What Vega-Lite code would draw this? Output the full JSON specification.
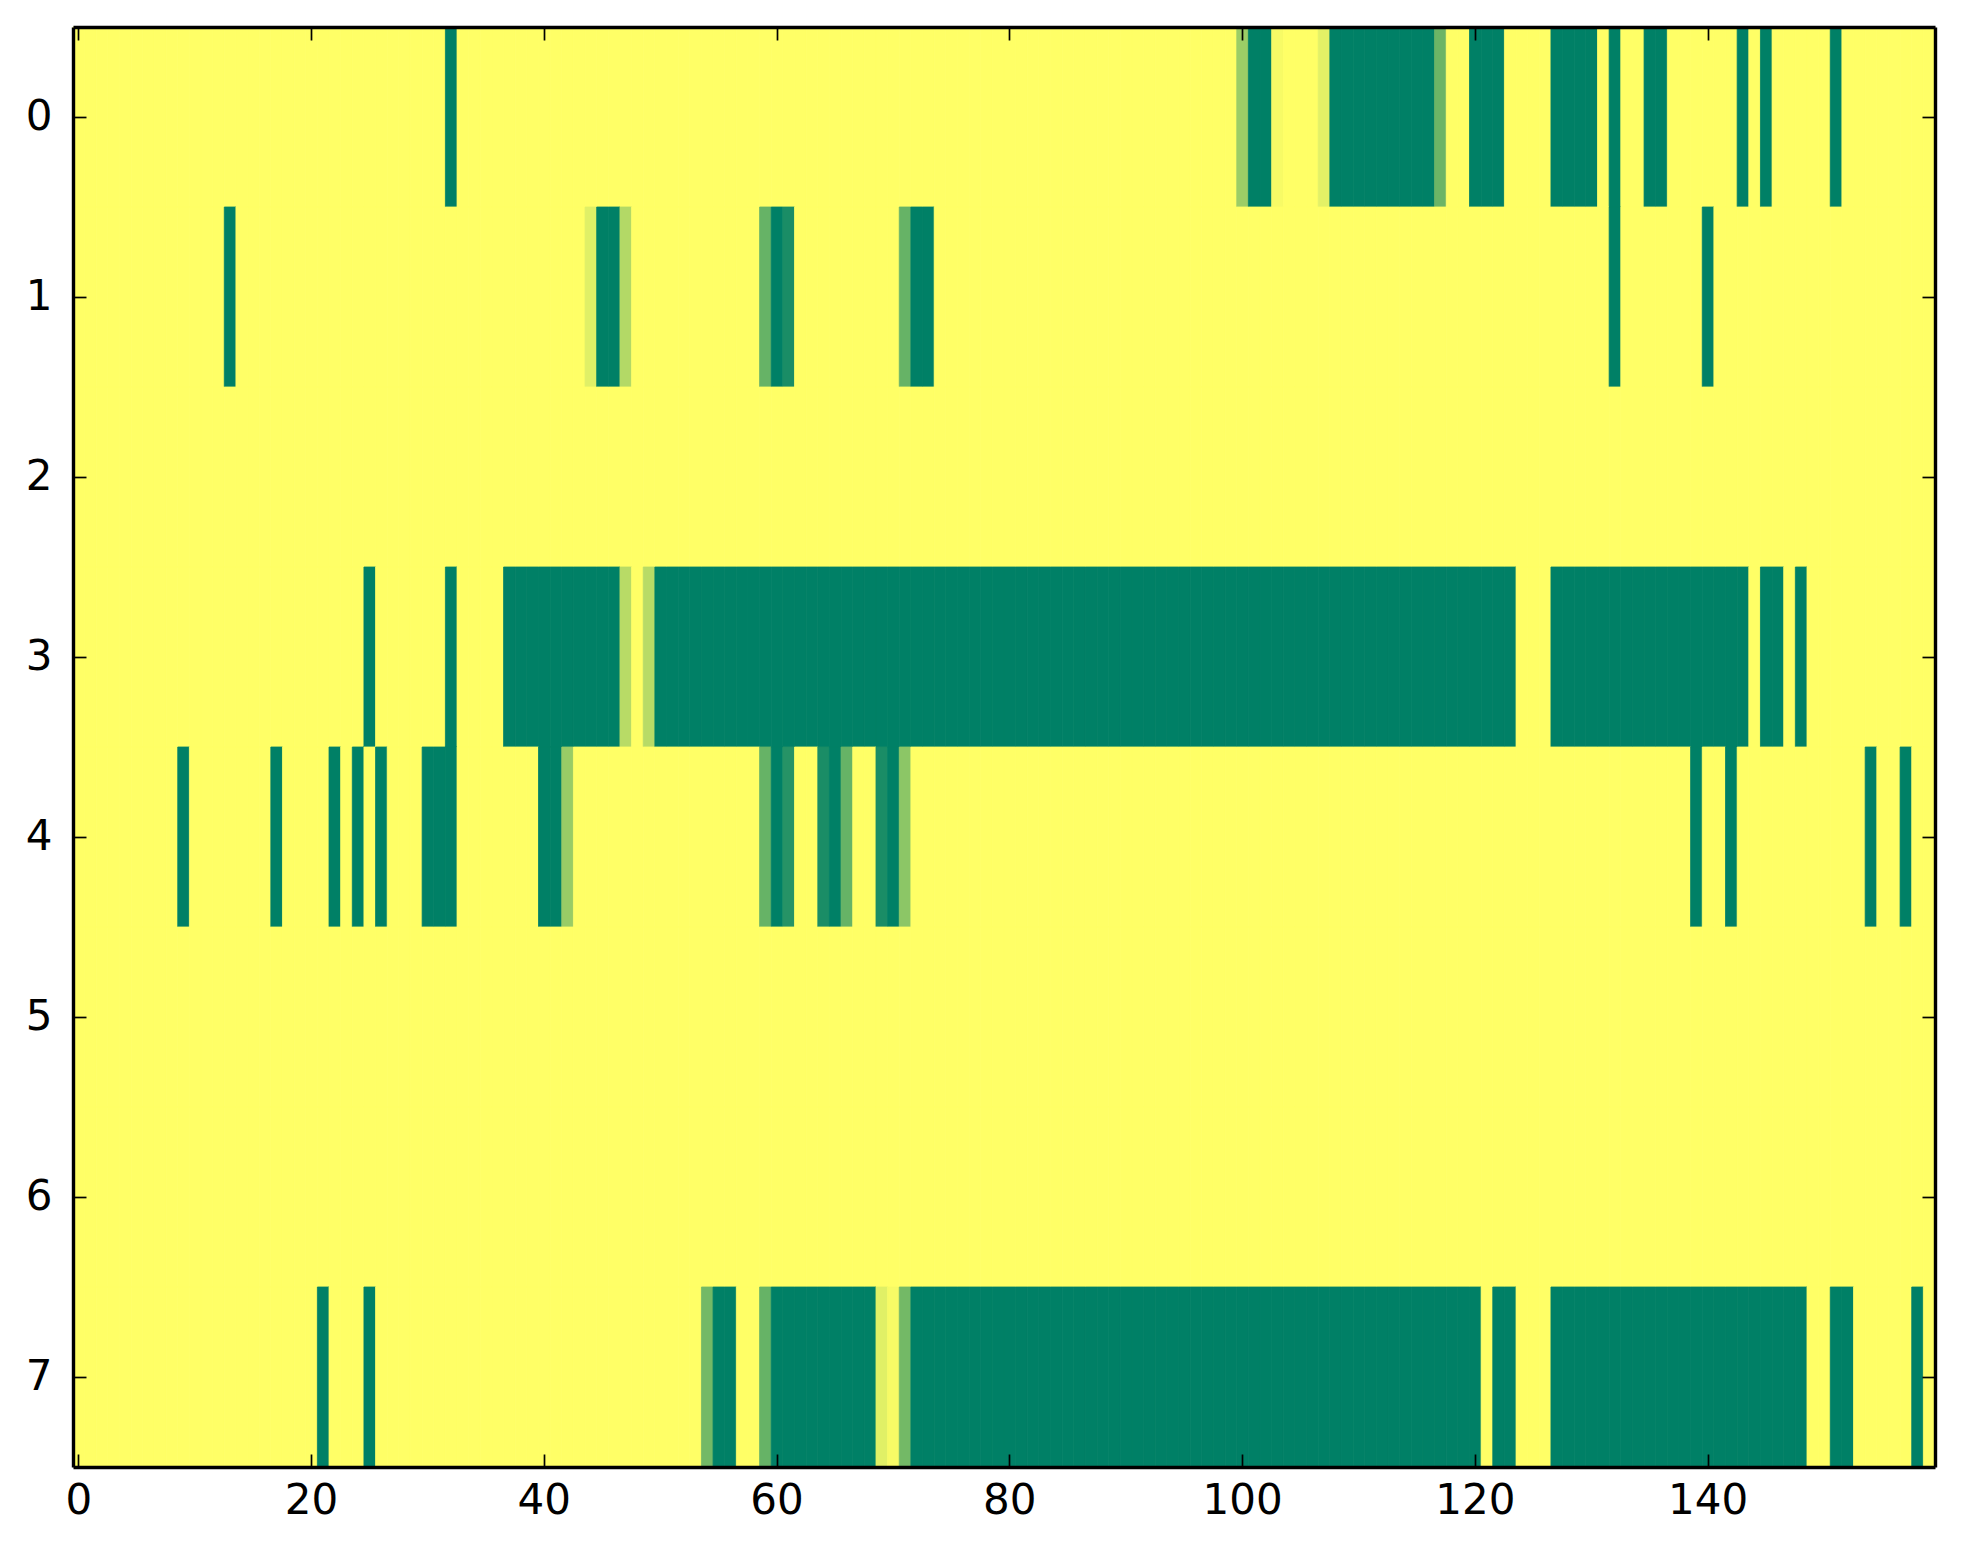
{
  "$schema": "https://vega.github.io/schema/vega-lite/v6.json",
  "width": 1862,
  "height": 1440,
  "autosize": "none",
  "padding": {"left": 73, "top": 27, "right": 28, "bottom": 97},
  "background": "white",
  "config": {"view": {"stroke": null}, "font": "DejaVu Sans"},
  "data": {"values": [
{"r":0,"c":0,"v":0},{"r":0,"c":1,"v":0},{"r":0,"c":2,"v":0},{"r":0,"c":3,"v":0},{"r":0,"c":4,"v":0},{"r":0,"c":5,"v":0},{"r":0,"c":6,"v":0},{"r":0,"c":7,"v":0},{"r":0,"c":8,"v":0},{"r":0,"c":9,"v":0},
{"r":0,"c":10,"v":0},{"r":0,"c":11,"v":0},{"r":0,"c":12,"v":0},{"r":0,"c":13,"v":0},{"r":0,"c":14,"v":0},{"r":0,"c":15,"v":0},{"r":0,"c":16,"v":0},{"r":0,"c":17,"v":0},{"r":0,"c":18,"v":0},{"r":0,"c":19,"v":0},
{"r":0,"c":20,"v":0},{"r":0,"c":21,"v":0},{"r":0,"c":22,"v":0},{"r":0,"c":23,"v":0},{"r":0,"c":24,"v":0},{"r":0,"c":25,"v":0},{"r":0,"c":26,"v":0},{"r":0,"c":27,"v":0},{"r":0,"c":28,"v":0},{"r":0,"c":29,"v":0},
{"r":0,"c":30,"v":0},{"r":0,"c":31,"v":0},{"r":0,"c":32,"v":1},{"r":0,"c":33,"v":0},{"r":0,"c":34,"v":0},{"r":0,"c":35,"v":0},{"r":0,"c":36,"v":0},{"r":0,"c":37,"v":0},{"r":0,"c":38,"v":0},{"r":0,"c":39,"v":0},
{"r":0,"c":40,"v":0},{"r":0,"c":41,"v":0},{"r":0,"c":42,"v":0},{"r":0,"c":43,"v":0},{"r":0,"c":44,"v":0},{"r":0,"c":45,"v":0},{"r":0,"c":46,"v":0},{"r":0,"c":47,"v":0},{"r":0,"c":48,"v":0},{"r":0,"c":49,"v":0},
{"r":0,"c":50,"v":0},{"r":0,"c":51,"v":0},{"r":0,"c":52,"v":0},{"r":0,"c":53,"v":0},{"r":0,"c":54,"v":0},{"r":0,"c":55,"v":0},{"r":0,"c":56,"v":0},{"r":0,"c":57,"v":0},{"r":0,"c":58,"v":0},{"r":0,"c":59,"v":0},
{"r":0,"c":60,"v":0},{"r":0,"c":61,"v":0},{"r":0,"c":62,"v":0},{"r":0,"c":63,"v":0},{"r":0,"c":64,"v":0},{"r":0,"c":65,"v":0},{"r":0,"c":66,"v":0},{"r":0,"c":67,"v":0},{"r":0,"c":68,"v":0},{"r":0,"c":69,"v":0},
{"r":0,"c":70,"v":0},{"r":0,"c":71,"v":0},{"r":0,"c":72,"v":0},{"r":0,"c":73,"v":0},{"r":0,"c":74,"v":0},{"r":0,"c":75,"v":0},{"r":0,"c":76,"v":0},{"r":0,"c":77,"v":0},{"r":0,"c":78,"v":0},{"r":0,"c":79,"v":0},
{"r":0,"c":80,"v":0},{"r":0,"c":81,"v":0},{"r":0,"c":82,"v":0},{"r":0,"c":83,"v":0},{"r":0,"c":84,"v":0},{"r":0,"c":85,"v":0},{"r":0,"c":86,"v":0},{"r":0,"c":87,"v":0},{"r":0,"c":88,"v":0},{"r":0,"c":89,"v":0},
{"r":0,"c":90,"v":0},{"r":0,"c":91,"v":0},{"r":0,"c":92,"v":0},{"r":0,"c":93,"v":0},{"r":0,"c":94,"v":0},{"r":0,"c":95,"v":0},{"r":0,"c":96,"v":0},{"r":0,"c":97,"v":0},{"r":0,"c":98,"v":0},{"r":0,"c":99,"v":0},
{"r":0,"c":100,"v":0.39},{"r":0,"c":101,"v":1},{"r":0,"c":102,"v":1},{"r":0,"c":103,"v":0.03},{"r":0,"c":104,"v":0},{"r":0,"c":105,"v":0},{"r":0,"c":106,"v":0},{"r":0,"c":107,"v":0.11},{"r":0,"c":108,"v":1},{"r":0,"c":109,"v":1},
{"r":0,"c":110,"v":1},{"r":0,"c":111,"v":1},{"r":0,"c":112,"v":1},{"r":0,"c":113,"v":1},{"r":0,"c":114,"v":1},{"r":0,"c":115,"v":1},{"r":0,"c":116,"v":1},{"r":0,"c":117,"v":0.58},{"r":0,"c":118,"v":0},{"r":0,"c":119,"v":0},
{"r":0,"c":120,"v":1},{"r":0,"c":121,"v":1},{"r":0,"c":122,"v":1},{"r":0,"c":123,"v":0},{"r":0,"c":124,"v":0},{"r":0,"c":125,"v":0},{"r":0,"c":126,"v":0},{"r":0,"c":127,"v":1},{"r":0,"c":128,"v":1},{"r":0,"c":129,"v":1},
{"r":0,"c":130,"v":1},{"r":0,"c":131,"v":0},{"r":0,"c":132,"v":1},{"r":0,"c":133,"v":0},{"r":0,"c":134,"v":0},{"r":0,"c":135,"v":1},{"r":0,"c":136,"v":1},{"r":0,"c":137,"v":0},{"r":0,"c":138,"v":0},{"r":0,"c":139,"v":0},
{"r":0,"c":140,"v":0},{"r":0,"c":141,"v":0},{"r":0,"c":142,"v":0},{"r":0,"c":143,"v":1},{"r":0,"c":144,"v":0},{"r":0,"c":145,"v":1},{"r":0,"c":146,"v":0},{"r":0,"c":147,"v":0},{"r":0,"c":148,"v":0},{"r":0,"c":149,"v":0},
{"r":0,"c":150,"v":0},{"r":0,"c":151,"v":1},{"r":0,"c":152,"v":0},{"r":0,"c":153,"v":0},{"r":0,"c":154,"v":0},{"r":0,"c":155,"v":0},{"r":0,"c":156,"v":0},{"r":0,"c":157,"v":0},{"r":0,"c":158,"v":0},{"r":0,"c":159,"v":0},
{"r":1,"c":0,"v":0},{"r":1,"c":1,"v":0},{"r":1,"c":2,"v":0},{"r":1,"c":3,"v":0},{"r":1,"c":4,"v":0},{"r":1,"c":5,"v":0},{"r":1,"c":6,"v":0},{"r":1,"c":7,"v":0},{"r":1,"c":8,"v":0},{"r":1,"c":9,"v":0},
{"r":1,"c":10,"v":0},{"r":1,"c":11,"v":0},{"r":1,"c":12,"v":0},{"r":1,"c":13,"v":1},{"r":1,"c":14,"v":0},{"r":1,"c":15,"v":0},{"r":1,"c":16,"v":0},{"r":1,"c":17,"v":0},{"r":1,"c":18,"v":0},{"r":1,"c":19,"v":0},
{"r":1,"c":20,"v":0},{"r":1,"c":21,"v":0},{"r":1,"c":22,"v":0},{"r":1,"c":23,"v":0},{"r":1,"c":24,"v":0},{"r":1,"c":25,"v":0},{"r":1,"c":26,"v":0},{"r":1,"c":27,"v":0},{"r":1,"c":28,"v":0},{"r":1,"c":29,"v":0},
{"r":1,"c":30,"v":0},{"r":1,"c":31,"v":0},{"r":1,"c":32,"v":0},{"r":1,"c":33,"v":0},{"r":1,"c":34,"v":0},{"r":1,"c":35,"v":0},{"r":1,"c":36,"v":0},{"r":1,"c":37,"v":0},{"r":1,"c":38,"v":0},{"r":1,"c":39,"v":0},
{"r":1,"c":40,"v":0},{"r":1,"c":41,"v":0},{"r":1,"c":42,"v":0},{"r":1,"c":43,"v":0},{"r":1,"c":44,"v":0.12},{"r":1,"c":45,"v":1},{"r":1,"c":46,"v":1},{"r":1,"c":47,"v":0.3},{"r":1,"c":48,"v":0},{"r":1,"c":49,"v":0},
{"r":1,"c":50,"v":0},{"r":1,"c":51,"v":0},{"r":1,"c":52,"v":0},{"r":1,"c":53,"v":0},{"r":1,"c":54,"v":0},{"r":1,"c":55,"v":0},{"r":1,"c":56,"v":0},{"r":1,"c":57,"v":0},{"r":1,"c":58,"v":0},{"r":1,"c":59,"v":0.6},
{"r":1,"c":60,"v":1},{"r":1,"c":61,"v":0.9},{"r":1,"c":62,"v":0},{"r":1,"c":63,"v":0},{"r":1,"c":64,"v":0},{"r":1,"c":65,"v":0},{"r":1,"c":66,"v":0},{"r":1,"c":67,"v":0},{"r":1,"c":68,"v":0},{"r":1,"c":69,"v":0},
{"r":1,"c":70,"v":0},{"r":1,"c":71,"v":0.6},{"r":1,"c":72,"v":1},{"r":1,"c":73,"v":1},{"r":1,"c":74,"v":0},{"r":1,"c":75,"v":0},{"r":1,"c":76,"v":0},{"r":1,"c":77,"v":0},{"r":1,"c":78,"v":0},{"r":1,"c":79,"v":0},
{"r":1,"c":80,"v":0},{"r":1,"c":81,"v":0},{"r":1,"c":82,"v":0},{"r":1,"c":83,"v":0},{"r":1,"c":84,"v":0},{"r":1,"c":85,"v":0},{"r":1,"c":86,"v":0},{"r":1,"c":87,"v":0},{"r":1,"c":88,"v":0},{"r":1,"c":89,"v":0},
{"r":1,"c":90,"v":0},{"r":1,"c":91,"v":0},{"r":1,"c":92,"v":0},{"r":1,"c":93,"v":0},{"r":1,"c":94,"v":0},{"r":1,"c":95,"v":0},{"r":1,"c":96,"v":0},{"r":1,"c":97,"v":0},{"r":1,"c":98,"v":0},{"r":1,"c":99,"v":0},
{"r":1,"c":100,"v":0},{"r":1,"c":101,"v":0},{"r":1,"c":102,"v":0},{"r":1,"c":103,"v":0},{"r":1,"c":104,"v":0},{"r":1,"c":105,"v":0},{"r":1,"c":106,"v":0},{"r":1,"c":107,"v":0},{"r":1,"c":108,"v":0},{"r":1,"c":109,"v":0},
{"r":1,"c":110,"v":0},{"r":1,"c":111,"v":0},{"r":1,"c":112,"v":0},{"r":1,"c":113,"v":0},{"r":1,"c":114,"v":0},{"r":1,"c":115,"v":0},{"r":1,"c":116,"v":0},{"r":1,"c":117,"v":0},{"r":1,"c":118,"v":0},{"r":1,"c":119,"v":0},
{"r":1,"c":120,"v":0},{"r":1,"c":121,"v":0},{"r":1,"c":122,"v":0},{"r":1,"c":123,"v":0},{"r":1,"c":124,"v":0},{"r":1,"c":125,"v":0},{"r":1,"c":126,"v":0},{"r":1,"c":127,"v":0},{"r":1,"c":128,"v":0},{"r":1,"c":129,"v":0},
{"r":1,"c":130,"v":0},{"r":1,"c":131,"v":0},{"r":1,"c":132,"v":1},{"r":1,"c":133,"v":0},{"r":1,"c":134,"v":0},{"r":1,"c":135,"v":0},{"r":1,"c":136,"v":0},{"r":1,"c":137,"v":0},{"r":1,"c":138,"v":0},{"r":1,"c":139,"v":0},
{"r":1,"c":140,"v":1},{"r":1,"c":141,"v":0},{"r":1,"c":142,"v":0},{"r":1,"c":143,"v":0},{"r":1,"c":144,"v":0},{"r":1,"c":145,"v":0},{"r":1,"c":146,"v":0},{"r":1,"c":147,"v":0},{"r":1,"c":148,"v":0},{"r":1,"c":149,"v":0},
{"r":1,"c":150,"v":0},{"r":1,"c":151,"v":0},{"r":1,"c":152,"v":0},{"r":1,"c":153,"v":0},{"r":1,"c":154,"v":0},{"r":1,"c":155,"v":0},{"r":1,"c":156,"v":0},{"r":1,"c":157,"v":0},{"r":1,"c":158,"v":0},{"r":1,"c":159,"v":0},
{"r":2,"c":0,"v":0},{"r":2,"c":1,"v":0},{"r":2,"c":2,"v":0},{"r":2,"c":3,"v":0},{"r":2,"c":4,"v":0},{"r":2,"c":5,"v":0},{"r":2,"c":6,"v":0},{"r":2,"c":7,"v":0},{"r":2,"c":8,"v":0},{"r":2,"c":9,"v":0},
{"r":2,"c":10,"v":0},{"r":2,"c":11,"v":0},{"r":2,"c":12,"v":0},{"r":2,"c":13,"v":0},{"r":2,"c":14,"v":0},{"r":2,"c":15,"v":0},{"r":2,"c":16,"v":0},{"r":2,"c":17,"v":0},{"r":2,"c":18,"v":0},{"r":2,"c":19,"v":0},
{"r":2,"c":20,"v":0},{"r":2,"c":21,"v":0},{"r":2,"c":22,"v":0},{"r":2,"c":23,"v":0},{"r":2,"c":24,"v":0},{"r":2,"c":25,"v":0},{"r":2,"c":26,"v":0},{"r":2,"c":27,"v":0},{"r":2,"c":28,"v":0},{"r":2,"c":29,"v":0},
{"r":2,"c":30,"v":0},{"r":2,"c":31,"v":0},{"r":2,"c":32,"v":0},{"r":2,"c":33,"v":0},{"r":2,"c":34,"v":0},{"r":2,"c":35,"v":0},{"r":2,"c":36,"v":0},{"r":2,"c":37,"v":0},{"r":2,"c":38,"v":0},{"r":2,"c":39,"v":0},
{"r":2,"c":40,"v":0},{"r":2,"c":41,"v":0},{"r":2,"c":42,"v":0},{"r":2,"c":43,"v":0},{"r":2,"c":44,"v":0},{"r":2,"c":45,"v":0},{"r":2,"c":46,"v":0},{"r":2,"c":47,"v":0},{"r":2,"c":48,"v":0},{"r":2,"c":49,"v":0},
{"r":2,"c":50,"v":0},{"r":2,"c":51,"v":0},{"r":2,"c":52,"v":0},{"r":2,"c":53,"v":0},{"r":2,"c":54,"v":0},{"r":2,"c":55,"v":0},{"r":2,"c":56,"v":0},{"r":2,"c":57,"v":0},{"r":2,"c":58,"v":0},{"r":2,"c":59,"v":0},
{"r":2,"c":60,"v":0},{"r":2,"c":61,"v":0},{"r":2,"c":62,"v":0},{"r":2,"c":63,"v":0},{"r":2,"c":64,"v":0},{"r":2,"c":65,"v":0},{"r":2,"c":66,"v":0},{"r":2,"c":67,"v":0},{"r":2,"c":68,"v":0},{"r":2,"c":69,"v":0},
{"r":2,"c":70,"v":0},{"r":2,"c":71,"v":0},{"r":2,"c":72,"v":0},{"r":2,"c":73,"v":0},{"r":2,"c":74,"v":0},{"r":2,"c":75,"v":0},{"r":2,"c":76,"v":0},{"r":2,"c":77,"v":0},{"r":2,"c":78,"v":0},{"r":2,"c":79,"v":0},
{"r":2,"c":80,"v":0},{"r":2,"c":81,"v":0},{"r":2,"c":82,"v":0},{"r":2,"c":83,"v":0},{"r":2,"c":84,"v":0},{"r":2,"c":85,"v":0},{"r":2,"c":86,"v":0},{"r":2,"c":87,"v":0},{"r":2,"c":88,"v":0},{"r":2,"c":89,"v":0},
{"r":2,"c":90,"v":0},{"r":2,"c":91,"v":0},{"r":2,"c":92,"v":0},{"r":2,"c":93,"v":0},{"r":2,"c":94,"v":0},{"r":2,"c":95,"v":0},{"r":2,"c":96,"v":0},{"r":2,"c":97,"v":0},{"r":2,"c":98,"v":0},{"r":2,"c":99,"v":0},
{"r":2,"c":100,"v":0},{"r":2,"c":101,"v":0},{"r":2,"c":102,"v":0},{"r":2,"c":103,"v":0},{"r":2,"c":104,"v":0},{"r":2,"c":105,"v":0},{"r":2,"c":106,"v":0},{"r":2,"c":107,"v":0},{"r":2,"c":108,"v":0},{"r":2,"c":109,"v":0},
{"r":2,"c":110,"v":0},{"r":2,"c":111,"v":0},{"r":2,"c":112,"v":0},{"r":2,"c":113,"v":0},{"r":2,"c":114,"v":0},{"r":2,"c":115,"v":0},{"r":2,"c":116,"v":0},{"r":2,"c":117,"v":0},{"r":2,"c":118,"v":0},{"r":2,"c":119,"v":0},
{"r":2,"c":120,"v":0},{"r":2,"c":121,"v":0},{"r":2,"c":122,"v":0},{"r":2,"c":123,"v":0},{"r":2,"c":124,"v":0},{"r":2,"c":125,"v":0},{"r":2,"c":126,"v":0},{"r":2,"c":127,"v":0},{"r":2,"c":128,"v":0},{"r":2,"c":129,"v":0},
{"r":2,"c":130,"v":0},{"r":2,"c":131,"v":0},{"r":2,"c":132,"v":0},{"r":2,"c":133,"v":0},{"r":2,"c":134,"v":0},{"r":2,"c":135,"v":0},{"r":2,"c":136,"v":0},{"r":2,"c":137,"v":0},{"r":2,"c":138,"v":0},{"r":2,"c":139,"v":0},
{"r":2,"c":140,"v":0},{"r":2,"c":141,"v":0},{"r":2,"c":142,"v":0},{"r":2,"c":143,"v":0},{"r":2,"c":144,"v":0},{"r":2,"c":145,"v":0},{"r":2,"c":146,"v":0},{"r":2,"c":147,"v":0},{"r":2,"c":148,"v":0},{"r":2,"c":149,"v":0},
{"r":2,"c":150,"v":0},{"r":2,"c":151,"v":0},{"r":2,"c":152,"v":0},{"r":2,"c":153,"v":0},{"r":2,"c":154,"v":0},{"r":2,"c":155,"v":0},{"r":2,"c":156,"v":0},{"r":2,"c":157,"v":0},{"r":2,"c":158,"v":0},{"r":2,"c":159,"v":0},
{"r":3,"c":0,"v":0},{"r":3,"c":1,"v":0},{"r":3,"c":2,"v":0},{"r":3,"c":3,"v":0},{"r":3,"c":4,"v":0},{"r":3,"c":5,"v":0},{"r":3,"c":6,"v":0},{"r":3,"c":7,"v":0},{"r":3,"c":8,"v":0},{"r":3,"c":9,"v":0},
{"r":3,"c":10,"v":0},{"r":3,"c":11,"v":0},{"r":3,"c":12,"v":0},{"r":3,"c":13,"v":0},{"r":3,"c":14,"v":0},{"r":3,"c":15,"v":0},{"r":3,"c":16,"v":0},{"r":3,"c":17,"v":0},{"r":3,"c":18,"v":0},{"r":3,"c":19,"v":0},
{"r":3,"c":20,"v":0},{"r":3,"c":21,"v":0},{"r":3,"c":22,"v":0},{"r":3,"c":23,"v":0},{"r":3,"c":24,"v":0},{"r":3,"c":25,"v":1},{"r":3,"c":26,"v":0},{"r":3,"c":27,"v":0},{"r":3,"c":28,"v":0},{"r":3,"c":29,"v":0},
{"r":3,"c":30,"v":0},{"r":3,"c":31,"v":0},{"r":3,"c":32,"v":1},{"r":3,"c":33,"v":0},{"r":3,"c":34,"v":0},{"r":3,"c":35,"v":0},{"r":3,"c":36,"v":0},{"r":3,"c":37,"v":1},{"r":3,"c":38,"v":1},{"r":3,"c":39,"v":1},
{"r":3,"c":40,"v":1},{"r":3,"c":41,"v":1},{"r":3,"c":42,"v":1},{"r":3,"c":43,"v":1},{"r":3,"c":44,"v":1},{"r":3,"c":45,"v":1},{"r":3,"c":46,"v":1},{"r":3,"c":47,"v":0.28},{"r":3,"c":48,"v":0},{"r":3,"c":49,"v":0.28},
{"r":3,"c":50,"v":1},{"r":3,"c":51,"v":1},{"r":3,"c":52,"v":1},{"r":3,"c":53,"v":1},{"r":3,"c":54,"v":1},{"r":3,"c":55,"v":1},{"r":3,"c":56,"v":1},{"r":3,"c":57,"v":1},{"r":3,"c":58,"v":1},{"r":3,"c":59,"v":1},
{"r":3,"c":60,"v":1},{"r":3,"c":61,"v":1},{"r":3,"c":62,"v":1},{"r":3,"c":63,"v":1},{"r":3,"c":64,"v":1},{"r":3,"c":65,"v":1},{"r":3,"c":66,"v":1},{"r":3,"c":67,"v":1},{"r":3,"c":68,"v":1},{"r":3,"c":69,"v":1},
{"r":3,"c":70,"v":1},{"r":3,"c":71,"v":1},{"r":3,"c":72,"v":1},{"r":3,"c":73,"v":1},{"r":3,"c":74,"v":1},{"r":3,"c":75,"v":1},{"r":3,"c":76,"v":1},{"r":3,"c":77,"v":1},{"r":3,"c":78,"v":1},{"r":3,"c":79,"v":1},
{"r":3,"c":80,"v":1},{"r":3,"c":81,"v":1},{"r":3,"c":82,"v":1},{"r":3,"c":83,"v":1},{"r":3,"c":84,"v":1},{"r":3,"c":85,"v":1},{"r":3,"c":86,"v":1},{"r":3,"c":87,"v":1},{"r":3,"c":88,"v":1},{"r":3,"c":89,"v":1},
{"r":3,"c":90,"v":1},{"r":3,"c":91,"v":1},{"r":3,"c":92,"v":1},{"r":3,"c":93,"v":1},{"r":3,"c":94,"v":1},{"r":3,"c":95,"v":1},{"r":3,"c":96,"v":1},{"r":3,"c":97,"v":1},{"r":3,"c":98,"v":1},{"r":3,"c":99,"v":1},
{"r":3,"c":100,"v":1},{"r":3,"c":101,"v":1},{"r":3,"c":102,"v":1},{"r":3,"c":103,"v":1},{"r":3,"c":104,"v":1},{"r":3,"c":105,"v":1},{"r":3,"c":106,"v":1},{"r":3,"c":107,"v":1},{"r":3,"c":108,"v":1},{"r":3,"c":109,"v":1},
{"r":3,"c":110,"v":1},{"r":3,"c":111,"v":1},{"r":3,"c":112,"v":1},{"r":3,"c":113,"v":1},{"r":3,"c":114,"v":1},{"r":3,"c":115,"v":1},{"r":3,"c":116,"v":1},{"r":3,"c":117,"v":1},{"r":3,"c":118,"v":1},{"r":3,"c":119,"v":1},
{"r":3,"c":120,"v":1},{"r":3,"c":121,"v":1},{"r":3,"c":122,"v":1},{"r":3,"c":123,"v":1},{"r":3,"c":124,"v":0},{"r":3,"c":125,"v":0},{"r":3,"c":126,"v":0},{"r":3,"c":127,"v":1},{"r":3,"c":128,"v":1},{"r":3,"c":129,"v":1},
{"r":3,"c":130,"v":1},{"r":3,"c":131,"v":1},{"r":3,"c":132,"v":1},{"r":3,"c":133,"v":1},{"r":3,"c":134,"v":1},{"r":3,"c":135,"v":1},{"r":3,"c":136,"v":1},{"r":3,"c":137,"v":1},{"r":3,"c":138,"v":1},{"r":3,"c":139,"v":1},
{"r":3,"c":140,"v":1},{"r":3,"c":141,"v":1},{"r":3,"c":142,"v":1},{"r":3,"c":143,"v":1},{"r":3,"c":144,"v":0},{"r":3,"c":145,"v":1},{"r":3,"c":146,"v":1},{"r":3,"c":147,"v":0},{"r":3,"c":148,"v":1},{"r":3,"c":149,"v":0},
{"r":3,"c":150,"v":0},{"r":3,"c":151,"v":0},{"r":3,"c":152,"v":0},{"r":3,"c":153,"v":0},{"r":3,"c":154,"v":0},{"r":3,"c":155,"v":0},{"r":3,"c":156,"v":0},{"r":3,"c":157,"v":0},{"r":3,"c":158,"v":0},{"r":3,"c":159,"v":0},
{"r":4,"c":0,"v":0},{"r":4,"c":1,"v":0},{"r":4,"c":2,"v":0},{"r":4,"c":3,"v":0},{"r":4,"c":4,"v":0},{"r":4,"c":5,"v":0},{"r":4,"c":6,"v":0},{"r":4,"c":7,"v":0},{"r":4,"c":8,"v":0},{"r":4,"c":9,"v":1},
{"r":4,"c":10,"v":0},{"r":4,"c":11,"v":0},{"r":4,"c":12,"v":0},{"r":4,"c":13,"v":0},{"r":4,"c":14,"v":0},{"r":4,"c":15,"v":0},{"r":4,"c":16,"v":0},{"r":4,"c":17,"v":1},{"r":4,"c":18,"v":0},{"r":4,"c":19,"v":0},
{"r":4,"c":20,"v":0},{"r":4,"c":21,"v":0},{"r":4,"c":22,"v":1},{"r":4,"c":23,"v":0},{"r":4,"c":24,"v":1},{"r":4,"c":25,"v":0},{"r":4,"c":26,"v":1},{"r":4,"c":27,"v":0},{"r":4,"c":28,"v":0},{"r":4,"c":29,"v":0},
{"r":4,"c":30,"v":1},{"r":4,"c":31,"v":1},{"r":4,"c":32,"v":1},{"r":4,"c":33,"v":0},{"r":4,"c":34,"v":0},{"r":4,"c":35,"v":0},{"r":4,"c":36,"v":0},{"r":4,"c":37,"v":0},{"r":4,"c":38,"v":0},{"r":4,"c":39,"v":0},
{"r":4,"c":40,"v":1},{"r":4,"c":41,"v":1},{"r":4,"c":42,"v":0.4},{"r":4,"c":43,"v":0},{"r":4,"c":44,"v":0},{"r":4,"c":45,"v":0},{"r":4,"c":46,"v":0},{"r":4,"c":47,"v":0},{"r":4,"c":48,"v":0},{"r":4,"c":49,"v":0},
{"r":4,"c":50,"v":0},{"r":4,"c":51,"v":0},{"r":4,"c":52,"v":0},{"r":4,"c":53,"v":0},{"r":4,"c":54,"v":0},{"r":4,"c":55,"v":0},{"r":4,"c":56,"v":0},{"r":4,"c":57,"v":0},{"r":4,"c":58,"v":0},{"r":4,"c":59,"v":0.6},
{"r":4,"c":60,"v":1},{"r":4,"c":61,"v":0.85},{"r":4,"c":62,"v":0},{"r":4,"c":63,"v":0},{"r":4,"c":64,"v":0.9},{"r":4,"c":65,"v":1},{"r":4,"c":66,"v":0.6},{"r":4,"c":67,"v":0},{"r":4,"c":68,"v":0},{"r":4,"c":69,"v":0.9},
{"r":4,"c":70,"v":1},{"r":4,"c":71,"v":0.45},{"r":4,"c":72,"v":0},{"r":4,"c":73,"v":0},{"r":4,"c":74,"v":0},{"r":4,"c":75,"v":0},{"r":4,"c":76,"v":0},{"r":4,"c":77,"v":0},{"r":4,"c":78,"v":0},{"r":4,"c":79,"v":0},
{"r":4,"c":80,"v":0},{"r":4,"c":81,"v":0},{"r":4,"c":82,"v":0},{"r":4,"c":83,"v":0},{"r":4,"c":84,"v":0},{"r":4,"c":85,"v":0},{"r":4,"c":86,"v":0},{"r":4,"c":87,"v":0},{"r":4,"c":88,"v":0},{"r":4,"c":89,"v":0},
{"r":4,"c":90,"v":0},{"r":4,"c":91,"v":0},{"r":4,"c":92,"v":0},{"r":4,"c":93,"v":0},{"r":4,"c":94,"v":0},{"r":4,"c":95,"v":0},{"r":4,"c":96,"v":0},{"r":4,"c":97,"v":0},{"r":4,"c":98,"v":0},{"r":4,"c":99,"v":0},
{"r":4,"c":100,"v":0},{"r":4,"c":101,"v":0},{"r":4,"c":102,"v":0},{"r":4,"c":103,"v":0},{"r":4,"c":104,"v":0},{"r":4,"c":105,"v":0},{"r":4,"c":106,"v":0},{"r":4,"c":107,"v":0},{"r":4,"c":108,"v":0},{"r":4,"c":109,"v":0},
{"r":4,"c":110,"v":0},{"r":4,"c":111,"v":0},{"r":4,"c":112,"v":0},{"r":4,"c":113,"v":0},{"r":4,"c":114,"v":0},{"r":4,"c":115,"v":0},{"r":4,"c":116,"v":0},{"r":4,"c":117,"v":0},{"r":4,"c":118,"v":0},{"r":4,"c":119,"v":0},
{"r":4,"c":120,"v":0},{"r":4,"c":121,"v":0},{"r":4,"c":122,"v":0},{"r":4,"c":123,"v":0},{"r":4,"c":124,"v":0},{"r":4,"c":125,"v":0},{"r":4,"c":126,"v":0},{"r":4,"c":127,"v":0},{"r":4,"c":128,"v":0},{"r":4,"c":129,"v":0},
{"r":4,"c":130,"v":0},{"r":4,"c":131,"v":0},{"r":4,"c":132,"v":0},{"r":4,"c":133,"v":0},{"r":4,"c":134,"v":0},{"r":4,"c":135,"v":0},{"r":4,"c":136,"v":0},{"r":4,"c":137,"v":0},{"r":4,"c":138,"v":0},{"r":4,"c":139,"v":1},
{"r":4,"c":140,"v":0},{"r":4,"c":141,"v":0},{"r":4,"c":142,"v":1},{"r":4,"c":143,"v":0},{"r":4,"c":144,"v":0},{"r":4,"c":145,"v":0},{"r":4,"c":146,"v":0},{"r":4,"c":147,"v":0},{"r":4,"c":148,"v":0},{"r":4,"c":149,"v":0},
{"r":4,"c":150,"v":0},{"r":4,"c":151,"v":0},{"r":4,"c":152,"v":0},{"r":4,"c":153,"v":0},{"r":4,"c":154,"v":1},{"r":4,"c":155,"v":0},{"r":4,"c":156,"v":0},{"r":4,"c":157,"v":1},{"r":4,"c":158,"v":0},{"r":4,"c":159,"v":0},
{"r":5,"c":0,"v":0},{"r":5,"c":1,"v":0},{"r":5,"c":2,"v":0},{"r":5,"c":3,"v":0},{"r":5,"c":4,"v":0},{"r":5,"c":5,"v":0},{"r":5,"c":6,"v":0},{"r":5,"c":7,"v":0},{"r":5,"c":8,"v":0},{"r":5,"c":9,"v":0},
{"r":5,"c":10,"v":0},{"r":5,"c":11,"v":0},{"r":5,"c":12,"v":0},{"r":5,"c":13,"v":0},{"r":5,"c":14,"v":0},{"r":5,"c":15,"v":0},{"r":5,"c":16,"v":0},{"r":5,"c":17,"v":0},{"r":5,"c":18,"v":0},{"r":5,"c":19,"v":0},
{"r":5,"c":20,"v":0},{"r":5,"c":21,"v":0},{"r":5,"c":22,"v":0},{"r":5,"c":23,"v":0},{"r":5,"c":24,"v":0},{"r":5,"c":25,"v":0},{"r":5,"c":26,"v":0},{"r":5,"c":27,"v":0},{"r":5,"c":28,"v":0},{"r":5,"c":29,"v":0},
{"r":5,"c":30,"v":0},{"r":5,"c":31,"v":0},{"r":5,"c":32,"v":0},{"r":5,"c":33,"v":0},{"r":5,"c":34,"v":0},{"r":5,"c":35,"v":0},{"r":5,"c":36,"v":0},{"r":5,"c":37,"v":0},{"r":5,"c":38,"v":0},{"r":5,"c":39,"v":0},
{"r":5,"c":40,"v":0},{"r":5,"c":41,"v":0},{"r":5,"c":42,"v":0},{"r":5,"c":43,"v":0},{"r":5,"c":44,"v":0},{"r":5,"c":45,"v":0},{"r":5,"c":46,"v":0},{"r":5,"c":47,"v":0},{"r":5,"c":48,"v":0},{"r":5,"c":49,"v":0},
{"r":5,"c":50,"v":0},{"r":5,"c":51,"v":0},{"r":5,"c":52,"v":0},{"r":5,"c":53,"v":0},{"r":5,"c":54,"v":0},{"r":5,"c":55,"v":0},{"r":5,"c":56,"v":0},{"r":5,"c":57,"v":0},{"r":5,"c":58,"v":0},{"r":5,"c":59,"v":0},
{"r":5,"c":60,"v":0},{"r":5,"c":61,"v":0},{"r":5,"c":62,"v":0},{"r":5,"c":63,"v":0},{"r":5,"c":64,"v":0},{"r":5,"c":65,"v":0},{"r":5,"c":66,"v":0},{"r":5,"c":67,"v":0},{"r":5,"c":68,"v":0},{"r":5,"c":69,"v":0},
{"r":5,"c":70,"v":0},{"r":5,"c":71,"v":0},{"r":5,"c":72,"v":0},{"r":5,"c":73,"v":0},{"r":5,"c":74,"v":0},{"r":5,"c":75,"v":0},{"r":5,"c":76,"v":0},{"r":5,"c":77,"v":0},{"r":5,"c":78,"v":0},{"r":5,"c":79,"v":0},
{"r":5,"c":80,"v":0},{"r":5,"c":81,"v":0},{"r":5,"c":82,"v":0},{"r":5,"c":83,"v":0},{"r":5,"c":84,"v":0},{"r":5,"c":85,"v":0},{"r":5,"c":86,"v":0},{"r":5,"c":87,"v":0},{"r":5,"c":88,"v":0},{"r":5,"c":89,"v":0},
{"r":5,"c":90,"v":0},{"r":5,"c":91,"v":0},{"r":5,"c":92,"v":0},{"r":5,"c":93,"v":0},{"r":5,"c":94,"v":0},{"r":5,"c":95,"v":0},{"r":5,"c":96,"v":0},{"r":5,"c":97,"v":0},{"r":5,"c":98,"v":0},{"r":5,"c":99,"v":0},
{"r":5,"c":100,"v":0},{"r":5,"c":101,"v":0},{"r":5,"c":102,"v":0},{"r":5,"c":103,"v":0},{"r":5,"c":104,"v":0},{"r":5,"c":105,"v":0},{"r":5,"c":106,"v":0},{"r":5,"c":107,"v":0},{"r":5,"c":108,"v":0},{"r":5,"c":109,"v":0},
{"r":5,"c":110,"v":0},{"r":5,"c":111,"v":0},{"r":5,"c":112,"v":0},{"r":5,"c":113,"v":0},{"r":5,"c":114,"v":0},{"r":5,"c":115,"v":0},{"r":5,"c":116,"v":0},{"r":5,"c":117,"v":0},{"r":5,"c":118,"v":0},{"r":5,"c":119,"v":0},
{"r":5,"c":120,"v":0},{"r":5,"c":121,"v":0},{"r":5,"c":122,"v":0},{"r":5,"c":123,"v":0},{"r":5,"c":124,"v":0},{"r":5,"c":125,"v":0},{"r":5,"c":126,"v":0},{"r":5,"c":127,"v":0},{"r":5,"c":128,"v":0},{"r":5,"c":129,"v":0},
{"r":5,"c":130,"v":0},{"r":5,"c":131,"v":0},{"r":5,"c":132,"v":0},{"r":5,"c":133,"v":0},{"r":5,"c":134,"v":0},{"r":5,"c":135,"v":0},{"r":5,"c":136,"v":0},{"r":5,"c":137,"v":0},{"r":5,"c":138,"v":0},{"r":5,"c":139,"v":0},
{"r":5,"c":140,"v":0},{"r":5,"c":141,"v":0},{"r":5,"c":142,"v":0},{"r":5,"c":143,"v":0},{"r":5,"c":144,"v":0},{"r":5,"c":145,"v":0},{"r":5,"c":146,"v":0},{"r":5,"c":147,"v":0},{"r":5,"c":148,"v":0},{"r":5,"c":149,"v":0},
{"r":5,"c":150,"v":0},{"r":5,"c":151,"v":0},{"r":5,"c":152,"v":0},{"r":5,"c":153,"v":0},{"r":5,"c":154,"v":0},{"r":5,"c":155,"v":0},{"r":5,"c":156,"v":0},{"r":5,"c":157,"v":0},{"r":5,"c":158,"v":0},{"r":5,"c":159,"v":0},
{"r":6,"c":0,"v":0},{"r":6,"c":1,"v":0},{"r":6,"c":2,"v":0},{"r":6,"c":3,"v":0},{"r":6,"c":4,"v":0},{"r":6,"c":5,"v":0},{"r":6,"c":6,"v":0},{"r":6,"c":7,"v":0},{"r":6,"c":8,"v":0},{"r":6,"c":9,"v":0},
{"r":6,"c":10,"v":0},{"r":6,"c":11,"v":0},{"r":6,"c":12,"v":0},{"r":6,"c":13,"v":0},{"r":6,"c":14,"v":0},{"r":6,"c":15,"v":0},{"r":6,"c":16,"v":0},{"r":6,"c":17,"v":0},{"r":6,"c":18,"v":0},{"r":6,"c":19,"v":0},
{"r":6,"c":20,"v":0},{"r":6,"c":21,"v":0},{"r":6,"c":22,"v":0},{"r":6,"c":23,"v":0},{"r":6,"c":24,"v":0},{"r":6,"c":25,"v":0},{"r":6,"c":26,"v":0},{"r":6,"c":27,"v":0},{"r":6,"c":28,"v":0},{"r":6,"c":29,"v":0},
{"r":6,"c":30,"v":0},{"r":6,"c":31,"v":0},{"r":6,"c":32,"v":0},{"r":6,"c":33,"v":0},{"r":6,"c":34,"v":0},{"r":6,"c":35,"v":0},{"r":6,"c":36,"v":0},{"r":6,"c":37,"v":0},{"r":6,"c":38,"v":0},{"r":6,"c":39,"v":0},
{"r":6,"c":40,"v":0},{"r":6,"c":41,"v":0},{"r":6,"c":42,"v":0},{"r":6,"c":43,"v":0},{"r":6,"c":44,"v":0},{"r":6,"c":45,"v":0},{"r":6,"c":46,"v":0},{"r":6,"c":47,"v":0},{"r":6,"c":48,"v":0},{"r":6,"c":49,"v":0},
{"r":6,"c":50,"v":0},{"r":6,"c":51,"v":0},{"r":6,"c":52,"v":0},{"r":6,"c":53,"v":0},{"r":6,"c":54,"v":0},{"r":6,"c":55,"v":0},{"r":6,"c":56,"v":0},{"r":6,"c":57,"v":0},{"r":6,"c":58,"v":0},{"r":6,"c":59,"v":0},
{"r":6,"c":60,"v":0},{"r":6,"c":61,"v":0},{"r":6,"c":62,"v":0},{"r":6,"c":63,"v":0},{"r":6,"c":64,"v":0},{"r":6,"c":65,"v":0},{"r":6,"c":66,"v":0},{"r":6,"c":67,"v":0},{"r":6,"c":68,"v":0},{"r":6,"c":69,"v":0},
{"r":6,"c":70,"v":0},{"r":6,"c":71,"v":0},{"r":6,"c":72,"v":0},{"r":6,"c":73,"v":0},{"r":6,"c":74,"v":0},{"r":6,"c":75,"v":0},{"r":6,"c":76,"v":0},{"r":6,"c":77,"v":0},{"r":6,"c":78,"v":0},{"r":6,"c":79,"v":0},
{"r":6,"c":80,"v":0},{"r":6,"c":81,"v":0},{"r":6,"c":82,"v":0},{"r":6,"c":83,"v":0},{"r":6,"c":84,"v":0},{"r":6,"c":85,"v":0},{"r":6,"c":86,"v":0},{"r":6,"c":87,"v":0},{"r":6,"c":88,"v":0},{"r":6,"c":89,"v":0},
{"r":6,"c":90,"v":0},{"r":6,"c":91,"v":0},{"r":6,"c":92,"v":0},{"r":6,"c":93,"v":0},{"r":6,"c":94,"v":0},{"r":6,"c":95,"v":0},{"r":6,"c":96,"v":0},{"r":6,"c":97,"v":0},{"r":6,"c":98,"v":0},{"r":6,"c":99,"v":0},
{"r":6,"c":100,"v":0},{"r":6,"c":101,"v":0},{"r":6,"c":102,"v":0},{"r":6,"c":103,"v":0},{"r":6,"c":104,"v":0},{"r":6,"c":105,"v":0},{"r":6,"c":106,"v":0},{"r":6,"c":107,"v":0},{"r":6,"c":108,"v":0},{"r":6,"c":109,"v":0},
{"r":6,"c":110,"v":0},{"r":6,"c":111,"v":0},{"r":6,"c":112,"v":0},{"r":6,"c":113,"v":0},{"r":6,"c":114,"v":0},{"r":6,"c":115,"v":0},{"r":6,"c":116,"v":0},{"r":6,"c":117,"v":0},{"r":6,"c":118,"v":0},{"r":6,"c":119,"v":0},
{"r":6,"c":120,"v":0},{"r":6,"c":121,"v":0},{"r":6,"c":122,"v":0},{"r":6,"c":123,"v":0},{"r":6,"c":124,"v":0},{"r":6,"c":125,"v":0},{"r":6,"c":126,"v":0},{"r":6,"c":127,"v":0},{"r":6,"c":128,"v":0},{"r":6,"c":129,"v":0},
{"r":6,"c":130,"v":0},{"r":6,"c":131,"v":0},{"r":6,"c":132,"v":0},{"r":6,"c":133,"v":0},{"r":6,"c":134,"v":0},{"r":6,"c":135,"v":0},{"r":6,"c":136,"v":0},{"r":6,"c":137,"v":0},{"r":6,"c":138,"v":0},{"r":6,"c":139,"v":0},
{"r":6,"c":140,"v":0},{"r":6,"c":141,"v":0},{"r":6,"c":142,"v":0},{"r":6,"c":143,"v":0},{"r":6,"c":144,"v":0},{"r":6,"c":145,"v":0},{"r":6,"c":146,"v":0},{"r":6,"c":147,"v":0},{"r":6,"c":148,"v":0},{"r":6,"c":149,"v":0},
{"r":6,"c":150,"v":0},{"r":6,"c":151,"v":0},{"r":6,"c":152,"v":0},{"r":6,"c":153,"v":0},{"r":6,"c":154,"v":0},{"r":6,"c":155,"v":0},{"r":6,"c":156,"v":0},{"r":6,"c":157,"v":0},{"r":6,"c":158,"v":0},{"r":6,"c":159,"v":0},
{"r":7,"c":0,"v":0},{"r":7,"c":1,"v":0},{"r":7,"c":2,"v":0},{"r":7,"c":3,"v":0},{"r":7,"c":4,"v":0},{"r":7,"c":5,"v":0},{"r":7,"c":6,"v":0},{"r":7,"c":7,"v":0},{"r":7,"c":8,"v":0},{"r":7,"c":9,"v":0},
{"r":7,"c":10,"v":0},{"r":7,"c":11,"v":0},{"r":7,"c":12,"v":0},{"r":7,"c":13,"v":0},{"r":7,"c":14,"v":0},{"r":7,"c":15,"v":0},{"r":7,"c":16,"v":0},{"r":7,"c":17,"v":0},{"r":7,"c":18,"v":0},{"r":7,"c":19,"v":0},
{"r":7,"c":20,"v":0},{"r":7,"c":21,"v":1},{"r":7,"c":22,"v":0},{"r":7,"c":23,"v":0},{"r":7,"c":24,"v":0},{"r":7,"c":25,"v":1},{"r":7,"c":26,"v":0},{"r":7,"c":27,"v":0},{"r":7,"c":28,"v":0},{"r":7,"c":29,"v":0},
{"r":7,"c":30,"v":0},{"r":7,"c":31,"v":0},{"r":7,"c":32,"v":0},{"r":7,"c":33,"v":0},{"r":7,"c":34,"v":0},{"r":7,"c":35,"v":0},{"r":7,"c":36,"v":0},{"r":7,"c":37,"v":0},{"r":7,"c":38,"v":0},{"r":7,"c":39,"v":0},
{"r":7,"c":40,"v":0},{"r":7,"c":41,"v":0},{"r":7,"c":42,"v":0},{"r":7,"c":43,"v":0},{"r":7,"c":44,"v":0},{"r":7,"c":45,"v":0},{"r":7,"c":46,"v":0},{"r":7,"c":47,"v":0},{"r":7,"c":48,"v":0},{"r":7,"c":49,"v":0},
{"r":7,"c":50,"v":0},{"r":7,"c":51,"v":0},{"r":7,"c":52,"v":0},{"r":7,"c":53,"v":0},{"r":7,"c":54,"v":0.55},{"r":7,"c":55,"v":1},{"r":7,"c":56,"v":1},{"r":7,"c":57,"v":0},{"r":7,"c":58,"v":0},{"r":7,"c":59,"v":0.6},
{"r":7,"c":60,"v":1},{"r":7,"c":61,"v":1},{"r":7,"c":62,"v":1},{"r":7,"c":63,"v":1},{"r":7,"c":64,"v":1},{"r":7,"c":65,"v":1},{"r":7,"c":66,"v":1},{"r":7,"c":67,"v":1},{"r":7,"c":68,"v":1},{"r":7,"c":69,"v":0.12},
{"r":7,"c":70,"v":0.03},{"r":7,"c":71,"v":0.55},{"r":7,"c":72,"v":1},{"r":7,"c":73,"v":1},{"r":7,"c":74,"v":1},{"r":7,"c":75,"v":1},{"r":7,"c":76,"v":1},{"r":7,"c":77,"v":1},{"r":7,"c":78,"v":1},{"r":7,"c":79,"v":1},
{"r":7,"c":80,"v":1},{"r":7,"c":81,"v":1},{"r":7,"c":82,"v":1},{"r":7,"c":83,"v":1},{"r":7,"c":84,"v":1},{"r":7,"c":85,"v":1},{"r":7,"c":86,"v":1},{"r":7,"c":87,"v":1},{"r":7,"c":88,"v":1},{"r":7,"c":89,"v":1},
{"r":7,"c":90,"v":1},{"r":7,"c":91,"v":1},{"r":7,"c":92,"v":1},{"r":7,"c":93,"v":1},{"r":7,"c":94,"v":1},{"r":7,"c":95,"v":1},{"r":7,"c":96,"v":1},{"r":7,"c":97,"v":1},{"r":7,"c":98,"v":1},{"r":7,"c":99,"v":1},
{"r":7,"c":100,"v":1},{"r":7,"c":101,"v":1},{"r":7,"c":102,"v":1},{"r":7,"c":103,"v":1},{"r":7,"c":104,"v":1},{"r":7,"c":105,"v":1},{"r":7,"c":106,"v":1},{"r":7,"c":107,"v":1},{"r":7,"c":108,"v":1},{"r":7,"c":109,"v":1},
{"r":7,"c":110,"v":1},{"r":7,"c":111,"v":1},{"r":7,"c":112,"v":1},{"r":7,"c":113,"v":1},{"r":7,"c":114,"v":1},{"r":7,"c":115,"v":1},{"r":7,"c":116,"v":1},{"r":7,"c":117,"v":1},{"r":7,"c":118,"v":1},{"r":7,"c":119,"v":1},
{"r":7,"c":120,"v":1},{"r":7,"c":121,"v":0},{"r":7,"c":122,"v":1},{"r":7,"c":123,"v":1},{"r":7,"c":124,"v":0},{"r":7,"c":125,"v":0},{"r":7,"c":126,"v":0},{"r":7,"c":127,"v":1},{"r":7,"c":128,"v":1},{"r":7,"c":129,"v":1},
{"r":7,"c":130,"v":1},{"r":7,"c":131,"v":1},{"r":7,"c":132,"v":1},{"r":7,"c":133,"v":1},{"r":7,"c":134,"v":1},{"r":7,"c":135,"v":1},{"r":7,"c":136,"v":1},{"r":7,"c":137,"v":1},{"r":7,"c":138,"v":1},{"r":7,"c":139,"v":1},
{"r":7,"c":140,"v":1},{"r":7,"c":141,"v":1},{"r":7,"c":142,"v":1},{"r":7,"c":143,"v":1},{"r":7,"c":144,"v":1},{"r":7,"c":145,"v":1},{"r":7,"c":146,"v":1},{"r":7,"c":147,"v":1},{"r":7,"c":148,"v":1},{"r":7,"c":149,"v":0},
{"r":7,"c":150,"v":0},{"r":7,"c":151,"v":1},{"r":7,"c":152,"v":1},{"r":7,"c":153,"v":0},{"r":7,"c":154,"v":0},{"r":7,"c":155,"v":0},{"r":7,"c":156,"v":0},{"r":7,"c":157,"v":0},{"r":7,"c":158,"v":1},{"r":7,"c":159,"v":0}
  ]},
  "layer": [
    {
      "mark": {"type": "rect", "strokeWidth": 0.8},
      "encoding": {
        "x": {
          "field": "c", "type": "ordinal",
          "scale": {"paddingInner": 0, "paddingOuter": 0},
          "axis": {
            "orient": "bottom", "title": null, "values": [0, 20, 40, 60, 80, 100, 120, 140],
            "labelAngle": 0, "labelFont": "DejaVu Sans", "labelFontSize": 42, "labelColor": "black",
            "labelPadding": 26, "labelOverlap": false, "labelFlush": false,
            "bandPosition": 0.5, "tickSize": -13, "tickWidth": 1.7, "tickColor": "black",
            "domain": true, "domainColor": "black", "domainWidth": 3.4, "grid": false, "zindex": 1
          }
        },
        "y": {
          "field": "r", "type": "ordinal",
          "scale": {"paddingInner": 0, "paddingOuter": 0},
          "axis": {
            "orient": "left", "title": null,
            "labelFont": "DejaVu Sans", "labelFontSize": 42, "labelColor": "black",
            "labelPadding": 34, "labelOverlap": false,
            "bandPosition": 0.5, "tickSize": -13, "tickWidth": 1.7, "tickColor": "black",
            "domain": true, "domainColor": "black", "domainWidth": 3.4, "grid": false, "zindex": 1
          }
        },
        "fill": {
          "field": "v", "type": "quantitative",
          "scale": {"domain": [0, 1], "range": ["#ffff66", "#008066"], "interpolate": "rgb"},
          "legend": null
        },
        "stroke": {
          "field": "v", "type": "quantitative",
          "scale": {"domain": [0, 1], "range": ["#ffff66", "#008066"], "interpolate": "rgb"},
          "legend": null
        }
      }
    },
    {
      "mark": {"type": "rect", "opacity": 0},
      "encoding": {
        "x": {
          "field": "c", "type": "ordinal",
          "axis": {
            "orient": "top", "title": null, "values": [0, 20, 40, 60, 80, 100, 120, 140],
            "labels": false, "bandPosition": 0.5, "tickSize": -13, "tickWidth": 1.7, "tickColor": "black",
            "domain": true, "domainColor": "black", "domainWidth": 3.4, "grid": false, "zindex": 1
          }
        },
        "y": {
          "field": "r", "type": "ordinal",
          "axis": {
            "orient": "right", "title": null,
            "labels": false, "bandPosition": 0.5, "tickSize": -13, "tickWidth": 1.7, "tickColor": "black",
            "domain": true, "domainColor": "black", "domainWidth": 3.4, "grid": false, "zindex": 1
          }
        }
      }
    }
  ],
  "resolve": {"axis": {"x": "independent", "y": "independent"}}
}
